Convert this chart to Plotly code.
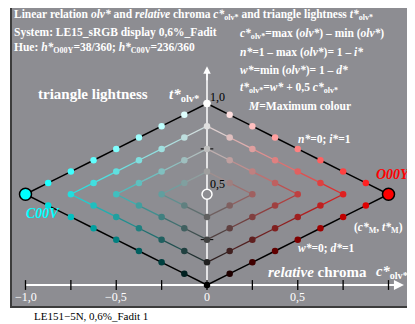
import plotly.graph_objects as go

# ---------------- data ----------------
grid_levels = [0.0, 0.125, 0.25, 0.375, 0.5, 0.625, 0.75, 0.875, 1.0]
chevron_levels = [0.0, 0.125, 0.25, 0.375]
max_colour_right = (1.0, 0.0, 0.0)   # O00Y
max_colour_left = (0.0, 1.0, 1.0)    # C00V
x_tick_vals = [-1.0, -0.75, -0.5, -0.25, 0.0, 0.25, 0.5, 0.75, 1.0]
x_tick_labels = {-1.0: "−1,0", -0.5: "−0,5", 0.0: "0", 0.5: "0,5"}
y_tick_vals = [0.25, 0.75]
y_mark_labels = ["0,5", "1,0"]

# ---------------- geometry helpers ----------------
W, H = 415, 324
OFF = 8            # page body margin
S = 181.5          # px per unit
PX0, PY0 = 207.0 - OFF, 285.0 - OFF


def dx(px):
    return (px - OFF - PX0) / S


def dy(py):
    return (PY0 - (py - OFF)) / S


def rgb(v):
    return "rgb(%d,%d,%d)" % tuple(int(round(255 * max(0, min(1, a)))) for a in v)


def col(w, c, M):
    return tuple(w + c * m for m in M)


BG = "rgb(141,141,146)"
FONT = "Liberation Serif"

fig = go.Figure()

sides = [(1, max_colour_right), (-1, max_colour_left)]

# chevron lines
for sgn, M in sides:
    for k in chevron_levels:
        pts = []
        for w in reversed(grid_levels):
            if k - 1e-9 <= w <= 1 - k + 1e-9:
                pts.append((w, 1 - w - k))
        for n in grid_levels:
            if k + 1e-9 < n <= 1 - k + 1e-9:
                pts.append((k, 1 - k - n))
        for (w1, c1), (w2, c2) in zip(pts[:-1], pts[1:]):
            if k == 0:
                lc, lw = "black", 1.5
            else:
                a = col(w1, c1, M)
                b = col(w2, c2, M)
                lc = rgb(tuple((p + q) / 2 for p, q in zip(a, b)))
                lw = 1.3
            fig.add_trace(go.Scatter(
                x=[sgn * c1, sgn * c2], y=[w1 + 0.5 * c1, w2 + 0.5 * c2],
                mode="lines", line=dict(color=lc, width=lw),
                hoverinfo="skip", showlegend=False))

# axes lines
fig.add_trace(go.Scatter(x=[-1.0, 1.07], y=[0, 0], mode="lines",
                         line=dict(color="white", width=2), hoverinfo="skip", showlegend=False))
fig.add_trace(go.Scatter(x=[0, 0], y=[0, 1.19], mode="lines",
                         line=dict(color="white", width=1.5), hoverinfo="skip", showlegend=False))
fig.add_trace(go.Scatter(x=x_tick_vals, y=[0] * len(x_tick_vals), mode="markers",
                         marker=dict(symbol="line-ns", size=7, line=dict(color="black", width=1.3)),
                         hoverinfo="skip", showlegend=False))
fig.add_trace(go.Scatter(x=[0] * len(y_tick_vals), y=y_tick_vals, mode="markers",
                         marker=dict(symbol="line-ew", size=9, line=dict(color="black", width=1)),
                         hoverinfo="skip", showlegend=False))

# dots
for sgn, M in sides:
    xs, ys, cs = [], [], []
    for w in grid_levels:
        for n in grid_levels:
            if w + n <= 1 + 1e-9:
                c = 1 - w - n
                if c < 1e-9 and sgn < 0:
                    continue
                if abs(c) < 1e-9 and abs(w - 1) < 1e-9:
                    continue
                if c > 1 - 1e-9:
                    continue
                xs.append(sgn * c)
                ys.append(w + 0.5 * c)
                cs.append(rgb(col(w, c, M)))
    fig.add_trace(go.Scatter(x=xs, y=ys, mode="markers",
                             marker=dict(size=6.5, color=cs, line=dict(width=0)),
                             hoverinfo="skip", showlegend=False))

fig.add_trace(go.Scatter(x=[0], y=[1.0], mode="markers",
                         marker=dict(size=7, color="white", line=dict(width=0.8, color="white")),
                         hoverinfo="skip", showlegend=False))
fig.add_trace(go.Scatter(x=[0], y=[0.5], mode="markers",
                         marker=dict(size=10, color=BG, line=dict(width=1.5, color="white")),
                         hoverinfo="skip", showlegend=False))
fig.add_trace(go.Scatter(x=[1, -1], y=[0.5, 0.5], mode="markers",
                         marker=dict(size=12, color=[rgb(max_colour_right), rgb(max_colour_left)],
                                     line=dict(width=1.5, color="black")),
                         hoverinfo="skip", showlegend=False))

ann = []
PAD = 2


def T(px, py, text, size=12, color="white", anchor="left"):
    ann.append(dict(x=dx(px - PAD), y=dy(py), xref="x", yref="y", text=text, showarrow=False,
                    xanchor=anchor, yanchor="middle",
                    font=dict(family=FONT, size=size, color=color)))


ann.append(dict(x=1.085, y=0, ax=1.0, ay=0, xref="x", yref="y", axref="x", ayref="y",
                text="", showarrow=True, arrowhead=2, arrowsize=1, arrowwidth=2, arrowcolor="white"))
ann.append(dict(x=0, y=1.205, ax=0, ay=1.12, xref="x", yref="y", axref="x", ayref="y",
                text="", showarrow=True, arrowhead=2, arrowsize=1, arrowwidth=1.5, arrowcolor="white"))

T(14, 15, "<b>Linear relation <i>olv*</i> and <i>relative</i> chroma <i>c*</i><sub>olv*</sub> and triangle lightness <i>t*</i><sub>olv*</sub></b>", 11.5)
T(14, 32, "<b>System: LE15_sRGB display 0,6%_Fadit</b>", 11.5)
T(14, 48, "<b>Hue: <i>h*</i><sub>O00Y</sub>=38/360; <i>h*</i><sub>C00V</sub>=236/360</b>", 11.5)

T(240, 34, "<b><i>c*</i><sub>olv*</sub>=max (<i>olv*</i>) – min (<i>olv*</i>)</b>", 11.5)
T(240, 52, "<b><i>n*</i>=1 – max (<i>olv*</i>)= 1 – <i>i*</i></b>", 11.5)
T(240, 70, "<b><i>w*</i>=min (<i>olv*</i>)= 1 – <i>d*</i></b>", 11.5)
T(240, 88, "<b><i>t*</i><sub>olv*</sub>=<i>w*</i> + 0,5 <i>c*</i><sub>olv*</sub></b>", 11.5)
T(248, 106, "<b><i>M</i>=Maximum colour</b>", 11.5)

T(38, 94, "<b>triangle lightness</b>", 15)
T(169, 95, "<b><i>t*</i><sub>olv*</sub></b>", 15)

T(210, 97, y_mark_labels[1], 12, "black")
T(210, 184, y_mark_labels[0], 12, "black")

T(298, 139, "<b><i>n*</i>=0; <i>i*</i>=1</b>", 11.5)
T(376, 174, "<b><i>O00Y</i></b>", 14, "rgb(255,0,0)")
T(26, 213, "<b><i>C00V</i></b>", 14, "rgb(0,255,255)")
T(354, 228, "<b>(<i>c*</i><sub>M</sub>, <i>t*</i><sub>M</sub>)</b>", 11.5)
T(298, 248, "<b><i>w*</i>=0; <i>d*</i>=1</b>", 11.5)
T(268, 272, "<b><i>relative</i> chroma</b>", 15)
T(376, 272, "<b><i>c*</i><sub>olv*</sub></b>", 14.5)

for v, lab in x_tick_labels.items():
    ann.append(dict(x=v, y=dy(297), xref="x", yref="y", text=lab, showarrow=False,
                    xanchor="center", yanchor="middle",
                    font=dict(family=FONT, size=12, color="white")))

T(34, 316, "LE151−5N, 0,6%_Fadit 1", 11, "black")

fig.update_layout(
    width=W, height=H,
    margin=dict(l=0, r=0, t=0, b=0),
    paper_bgcolor="white", plot_bgcolor="white",
    xaxis=dict(range=[(0 - PX0) / S, (W - PX0) / S], visible=False, fixedrange=True),
    yaxis=dict(range=[(PY0 - H) / S, PY0 / S], visible=False, fixedrange=True),
    annotations=ann,
    shapes=[dict(type="rect", xref="x", yref="y",
                 x0=dx(11), x1=dx(420), y0=dy(307), y1=dy(4),
                 fillcolor=BG, line=dict(color="rgb(60,60,60)", width=2), layer="below")],
)

fig.write_html("out.html")
